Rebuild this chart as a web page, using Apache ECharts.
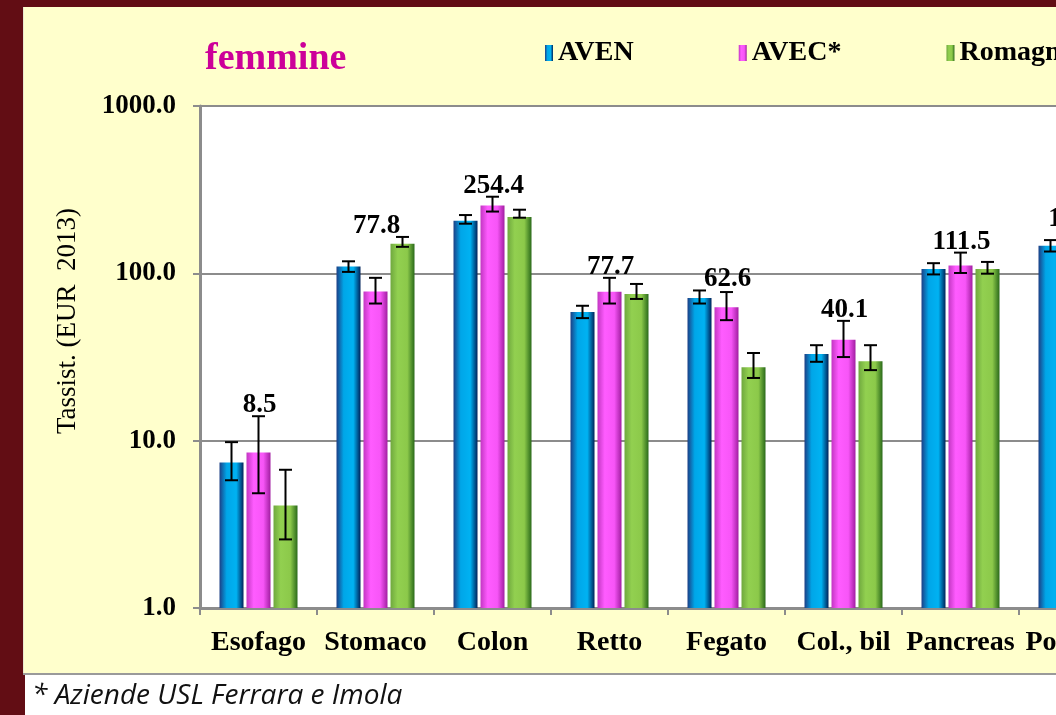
<!DOCTYPE html>
<html>
<head>
<meta charset="utf-8">
<script src="https://cdn.jsdelivr.net/npm/echarts@6/dist/echarts.min.js"></script>
<style>
  html, body { margin: 0; padding: 0; width: 1056px; height: 715px; overflow: hidden; background: #620d14; }
  .panel { position: absolute; left: 23px; top: 7px; width: 1100px; height: 666px; background: #ffffcc;
           border-left: 1px solid #e8e8d0; box-shadow: 0 2px 0 #9a9a9a; }
  .foot { position: absolute; left: 25px; top: 675px; width: 1100px; height: 40px; background: #fff; }
  #chart { position: absolute; left: 0; top: 0; width: 1180px; height: 715px; }
</style>
</head>
<body>
<div class="panel"></div>
<div class="foot"></div>
<div id="chart"></div>
<script>
const categories = ['Esofago', 'Stomaco', 'Colon', 'Retto', 'Fegato', 'Col., bil', 'Pancreas', 'Polmone']
const yTicks = [1, 10, 100, 1000]

// tassi standardizzati + intervalli di confidenza
const aven = [7.4, 110, 206, 58.8, 71.3, 33.0, 106, 146]
const avenLo = [5.8, 102, 198, 54, 66, 29.6, 98.5, 135]
const avenHi = [9.8, 118, 223, 64, 79, 37.2, 115, 158]

const avec = [8.5, 77.8, 254.4, 77.7, 62.6, 40.1, 111.5, 164.3]
const avecLo = [4.85, 66, 234, 66, 52.5, 31.6, 100.5, 148]
const avecHi = [14.0, 94, 287, 94, 77.3, 52, 133, 182]

const romagna = [4.1, 150, 217, 75.3, 27.5, 29.8, 106, 150]
const romagnaLo = [2.57, 144, 215, 70.3, 23.7, 26.4, 99.5, 138]
const romagnaHi = [6.7, 165, 240, 86.4, 33.4, 37.2, 117, 163]

const serif = 'Liberation Serif'

let grad = (a, b, c, d) => new echarts.graphic.LinearGradient(0, 0, 1, 0, [
  { offset: 0, color: a },
  { offset: 0.3, color: b },
  { offset: 0.7, color: c },
  { offset: 1, color: d }
])

let errSeries = (lo, hi, dx) => ({
  type: 'custom',
  silent: true,
  z: 5,
  data: lo.map((v, i) => [i, v, hi[i]]),
  renderItem(params, api) {
    let top = api.coord([api.value(0), api.value(2)])
    let bot = api.coord([api.value(0), api.value(1)])
    let x = top[0] + dx
    let style = { stroke: '#000', lineWidth: 2 }
    return {
      type: 'group',
      children: [
        { type: 'line', shape: { x1: x, y1: top[1], x2: x, y2: bot[1] }, style },
        { type: 'line', shape: { x1: x - 6.5, y1: top[1], x2: x + 6.5, y2: top[1] }, style },
        { type: 'line', shape: { x1: x - 6.5, y1: bot[1], x2: x + 6.5, y2: bot[1] }, style }
      ]
    }
  }
})

// etichette AVEC sopra il gruppo
let groupTop = avec.map((v, i) => Math.max(avenHi[i], avecHi[i], romagnaHi[i]))

let chart = echarts.init(document.getElementById('chart'))
chart.setOption({
  animation: false,
  backgroundColor: 'transparent',
  title: {
    text: 'femmine',
    left: 200,
    top: 35,
    textStyle: { color: '#cc0099', fontFamily: serif, fontWeight: 'bold', fontSize: 38 }
  },
  legend: {
    data: ['AVEN', 'AVEC*', 'Romagna'],
    left: 540,
    top: 34,
    itemWidth: 8,
    itemHeight: 16,
    itemGap: 105,
    icon: 'rect',
    textStyle: { fontFamily: serif, fontWeight: 'bold', fontSize: 28, color: '#000' }
  },
  grid: {
    left: 200,
    right: 44,
    top: 106,
    bottom: 107,
    show: true,
    backgroundColor: '#fff',
    borderWidth: 0
  },
  xAxis: {
    type: 'category',
    data: categories,
    axisLine: { lineStyle: { color: '#8c8c8c', width: 3 } },
    axisTick: { show: true, interval: 0, length: 7, lineStyle: { color: '#8c8c8c', width: 2 } },
    axisLabel: { interval: 0, margin: 21, fontFamily: serif, fontWeight: 'bold', fontSize: 28, color: '#000' }
  },
  yAxis: {
    type: 'log',
    logBase: 10,
    min: yTicks[0],
    max: yTicks[yTicks.length - 1],
    axisLine: { show: true, lineStyle: { color: '#8c8c8c', width: 3 } },
    axisTick: { show: true, length: 7, lineStyle: { color: '#8c8c8c', width: 2 } },
    axisLabel: {
      margin: 24,
      fontFamily: serif,
      fontWeight: 'bold',
      fontSize: 27,
      color: '#000',
      formatter: v => v.toFixed(1)
    },
    splitLine: { lineStyle: { color: '#8c8c8c', width: 2 } },
    minorTick: { show: false }
  },
  series: [
    {
      name: 'AVEN', type: 'bar', data: aven, barWidth: 24, barGap: '12.5%',
      itemStyle: { color: grad('#1c3f86', '#00a6e8', '#00b2f2', '#00225a') }
    },
    {
      name: 'AVEC*', type: 'bar', data: avec, barWidth: 24, barGap: '12.5%',
      itemStyle: { color: grad('#c236c2', '#ff5cff', '#f755f7', '#a21ea2') }
    },
    {
      name: 'Romagna', type: 'bar', data: romagna, barWidth: 24, barGap: '12.5%',
      itemStyle: { color: grad('#6fa83e', '#92d050', '#8cc94a', '#2a6a1a') }
    },
    errSeries(avenLo, avenHi, -27),
    errSeries(avecLo, avecHi, 0),
    errSeries(romagnaLo, romagnaHi, 27),
    {
      type: 'custom',
      silent: true,
      z: 6,
      data: groupTop.map((v, i) => [i, v, avec[i]]),
      renderItem(params, api) {
        let p = api.coord([api.value(0), api.value(1)])
        return {
          type: 'text',
          x: p[0] + 1,
          y: p[1] - 11,
          style: {
            text: api.value(2).toFixed(1),
            align: 'center',
            verticalAlign: 'middle',
            font: 'bold 27px "Liberation Serif"',
            fill: '#000'
          }
        }
      }
    }
  ],
  graphic: [
    {
      type: 'text',
      x: 68,
      y: 321,
      rotation: Math.PI / 2,
      style: {
        text: 'Tassist. (EUR  2013)',
        align: 'center',
        verticalAlign: 'middle',
        font: '27px "Liberation Serif"',
        fill: '#000'
      }
    },
    {
      type: 'text',
      left: 32,
      top: 682,
      style: {
        text: '* Aziende USL Ferrara e Imola',
        font: 'italic 28px "Open Sans"',
        fill: '#111'
      }
    }
  ]
})
</script>
</body>
</html>
